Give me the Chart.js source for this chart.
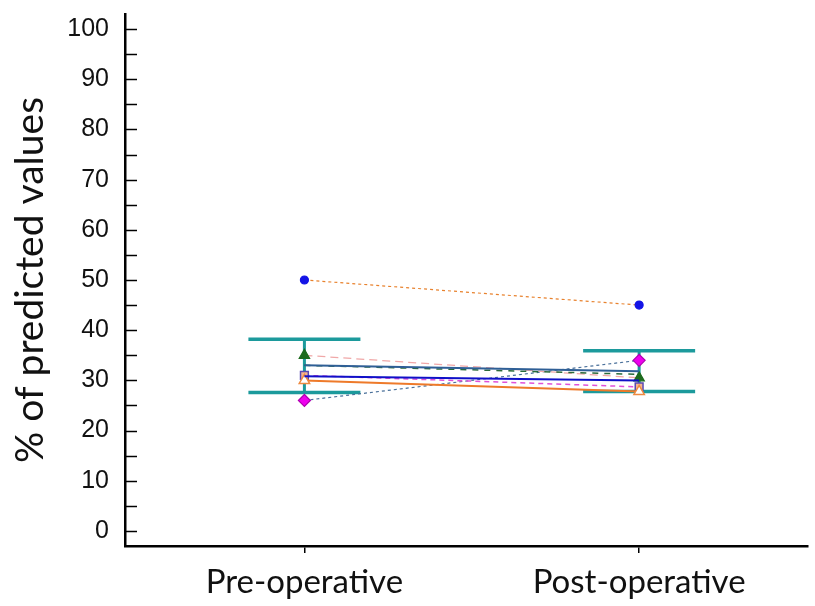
<!DOCTYPE html>
<html><head><meta charset="utf-8">
<script src="https://cdn.jsdelivr.net/npm/chart.js@4"></script>
<style>html,body{margin:0;padding:0;background:#fff}canvas{display:block}</style>
</head><body>
<canvas id="c" width="815" height="606"></canvas>
<script>
const categories = ["Pre-operative", "Post-operative"];
const subjCircle   = [50, 45];
const subjDiamond  = [26, 34];
const subjTriangle = [35, 30.5];
const subjSteel    = [33, 31.8];
const subjGreenDash= [33, 31.2];
const subjBlue     = [30.8, 30];
const subjSquare   = [31, 28.7];
const subjOrange   = [30, 27.8];
const errTop    = [38.2, 35.9];
const errBottom = [27.6, 27.8];
const yMajorTicks = [0,10,20,30,40,50,60,70,80,90,100];
const yMinorTicks = [5,15,25,35,45,55,65,75,85,95];

const pts = arr => arr.map((v,i)=>({x:i,y:v}));

const errPlugin = {
  id:'err',
  beforeDatasetsDraw(chart){
    const ctx=chart.ctx, xs=chart.scales.x, ys=chart.scales.y;
    ctx.save();
    ctx.strokeStyle='#1c9a9c'; ctx.lineCap='butt';
    categories.forEach((c,i)=>{
      const x=xs.getPixelForValue(i), yt=ys.getPixelForValue(errTop[i]), yb=ys.getPixelForValue(errBottom[i]);
      ctx.lineWidth=3.5;
      ctx.beginPath();
      ctx.moveTo(x-56,yt); ctx.lineTo(x+56,yt);
      ctx.moveTo(x-56,yb); ctx.lineTo(x+56,yb);
      ctx.stroke();
      ctx.lineWidth=3;
      ctx.beginPath(); ctx.moveTo(x,yt); ctx.lineTo(x,yb); ctx.stroke();
    });
    ctx.restore();
  },
  afterDraw(chart){
    const ctx=chart.ctx, ys=chart.scales.y, l=chart.chartArea.left;
    ctx.save(); ctx.strokeStyle='#000'; ctx.lineWidth=1.5;
    [...yMajorTicks,...yMinorTicks].forEach(v=>{
      const y=Math.round(ys.getPixelForValue(v))+0.5;
      ctx.beginPath(); ctx.moveTo(l,y); ctx.lineTo(l+12,y); ctx.stroke();
    });
    ctx.restore();
  }
};

new Chart(document.getElementById('c'),{
  type:'scatter',
  data:{datasets:[
    {data:pts(subjCircle), showLine:true, borderColor:'#e8822e', borderWidth:1.2, borderDash:[3,3], pointStyle:'circle', pointRadius:4, pointBackgroundColor:'#1414e6', pointBorderColor:'#1414e6'},
    {data:pts(subjSteel), showLine:true, borderColor:'#2f5f96', borderWidth:2, pointRadius:0},
    {data:pts(subjGreenDash), showLine:true, borderColor:'#2a6a3a', borderWidth:1.5, borderDash:[6,6], pointRadius:0},
    {data:pts(subjBlue), showLine:true, borderColor:'#1010c8', borderWidth:2, pointRadius:0},
    {data:pts(subjOrange), showLine:true, borderColor:'#ee7a2a', borderWidth:2, pointStyle:'triangle', pointRadius:6, pointBackgroundColor:'#ffffff', pointBorderColor:'#ee8a40', pointBorderWidth:1.5},
    {data:pts(subjSquare), showLine:true, borderColor:'#e050d8', borderWidth:1.5, borderDash:[5,4], pointStyle:'rect', pointRadius:5.5, pointBackgroundColor:'#f6b48e', pointBorderColor:'#5a4ab4', pointBorderWidth:1.5},
    {data:pts(subjTriangle), showLine:true, borderColor:'#f0a8a8', borderWidth:1.2, borderDash:[8,5], pointStyle:'triangle', pointRadius:6, pointBackgroundColor:'#1e6b1e', pointBorderColor:'#1e6b1e'},
    {data:pts(subjDiamond), showLine:true, borderColor:'#4a709a', borderWidth:1.2, borderDash:[3,3], pointStyle:'rectRot', pointRadius:6, pointBackgroundColor:'#ee00ee', pointBorderColor:'#b000b0'}
  ]},
  options:{
    responsive:false, animation:false, devicePixelRatio:1,
    layout:{padding:{top:14,right:5,left:0,bottom:0}},
    plugins:{legend:{display:false},tooltip:{enabled:false}},
    scales:{
      x:{type:'linear', min:-0.536, max:1.503,
        afterBuildTicks:s=>{s.ticks=categories.map((c,i)=>({value:i}));},
        afterFit:s=>{s.height=60;},
        ticks:{callback:v=>categories[v]??'', color:'#111', font:{family:'Lato',size:33}, padding:10, maxRotation:0, autoSkip:false},
        grid:{drawOnChartArea:false, tickLength:7, color:'#000', lineWidth:1.5},
        border:{display:true,color:'#000',width:2.5}
      },
      y:{type:'linear', min:-3, max:103,
        afterBuildTicks:s=>{s.ticks=yMajorTicks.map(v=>({value:v}));},
        afterFit:s=>{s.width=125; s.paddingTop=0; s.paddingBottom=0;},
        ticks:{color:'#111', font:{family:'Liberation Sans',size:25}, padding:8},
        grid:{display:false},
        border:{display:true,color:'#000',width:2.5},
        title:{display:true,text:'% of predicted values',color:'#111',font:{family:'Lato',size:39},padding:{top:7,bottom:0}}
      }
    }
  },
  plugins:[errPlugin]
});
</script>
</body></html>
